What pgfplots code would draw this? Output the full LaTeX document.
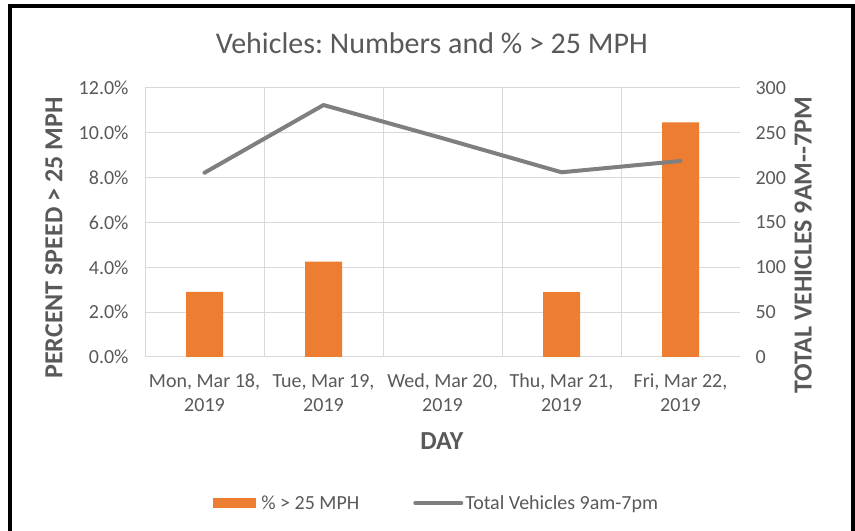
\documentclass[border=0pt]{standalone}
\usepackage{pgfplots}
\pgfplotsset{compat=1.18}
\usepackage{fontspec}
\setmainfont{Carlito}
\frenchspacing
\definecolor{barorange}{HTML}{ED7D31}
\definecolor{linegray}{HTML}{7F7F7F}
\definecolor{gridgray}{HTML}{D9D9D9}
\definecolor{txt}{HTML}{595959}
\newcommand{\fs}[1]{\fontsize{#1bp}{1.2\dimexpr#1bp\relax}\selectfont}
\begin{document}
\begin{tikzpicture}
\path[use as bounding box] (0bp,0bp) rectangle (855bp,531bp);
\draw[black, line width=4bp, line join=miter] (10bp,0bp) -- (10bp,524.5bp) -- (852.5bp,524.5bp) -- (852.5bp,0bp);
\begin{axis}[
  at={(145bp,174bp)}, anchor=south west, scale only axis,
  width=595bp, height=269bp,
  xmin=-0.5, xmax=4.5, ymin=0, ymax=0.12,
  axis line style={gridgray, line width=1bp},
  xtick={0,1,2,3,4},
  xticklabels={{\strut Mon, Mar 18,\\2019},{\strut Tue, Mar 19,\\2019},{\strut Wed, Mar 20,\\2019},{\strut Thu, Mar 21,\\2019},{\strut Fri, Mar 22,\\2019}},
  minor xtick={0.5,1.5,2.5,3.5},
  xminorgrids, minor grid style={gridgray, line width=1bp},
  ytick={0,0.02,0.04,0.06,0.08,0.10,0.12},
  yticklabels={0.0\%,2.0\%,4.0\%,6.0\%,8.0\%,10.0\%,12.0\%},
  ymajorgrids, major grid style={gridgray, line width=1bp},
  major tick length=0pt, minor tick length=0pt,
  tick label style={font=\fs{20}, text=txt},
  xticklabel style={align=center, yshift=-10bp},
  yticklabel style={xshift=-13bp},
  axis y line*=left, axis x line*=box,
  title={Vehicles: Numbers and \% > 25 MPH},
  title style={at={(0.482,1.145)}, anchor=center, font=\fs{30}, text=txt},
  xlabel={DAY},
  xlabel style={at={(0.499,-0.312)}, anchor=center, font=\fs{26}\bfseries, text=txt},
  ylabel={PERCENT SPEED > 25 MPH},
  ylabel style={at={(-0.153,0.442)}, anchor=center, rotate=0, font=\fs{26}\bfseries, text=txt},
  legend style={at={(0.49,-0.543)}, anchor=center, draw=none, fill=none,
    legend columns=2, font=\fs{20}, text=txt,
    /tikz/every even column/.append style={column sep=52bp}},
  legend cell align=left,
]
\addplot[ybar, bar width=37bp, fill=barorange, draw=none,
  legend image code/.code={\fill[barorange] (0bp,-5bp) rectangle (43bp,5bp);}]
  coordinates {(0,0.0290) (1,0.0425) (3,0.0289) (4,0.1047)};
\addlegendentry{\,\% > 25 MPH}
\addlegendimage{legend image code/.code={\draw[linegray, line width=4bp, line cap=round] (0bp,0bp) -- (46bp,0bp);}}
\addlegendentry{Total Vehicles 9am-7pm}
\end{axis}
\begin{axis}[
  at={(145bp,174bp)}, anchor=south west, scale only axis,
  width=595bp, height=269bp,
  xmin=-0.5, xmax=4.5, ymin=0, ymax=300,
  axis x line=none, axis y line*=right,
  y axis line style={draw=none},
  ytick={0,50,100,150,200,250,300},
  yticklabels={0,50,100,150,200,250,300},
  major tick length=0pt,
  tick label style={font=\fs{20}, text=txt},
  yticklabel style={xshift=12bp},
  ylabel={TOTAL VEHICLES 9AM-{}-7PM},
  ylabel style={at={(1.106,0.416)}, anchor=center, rotate=0, font=\fs{26}\bfseries, text=txt},
]
\addplot[linegray, line width=4bp, line join=round, line cap=round, mark=none]
  coordinates {(0,205.5) (1,281) (2,244) (3,206) (4,218.6)};
\end{axis}
\end{tikzpicture}
\end{document}
